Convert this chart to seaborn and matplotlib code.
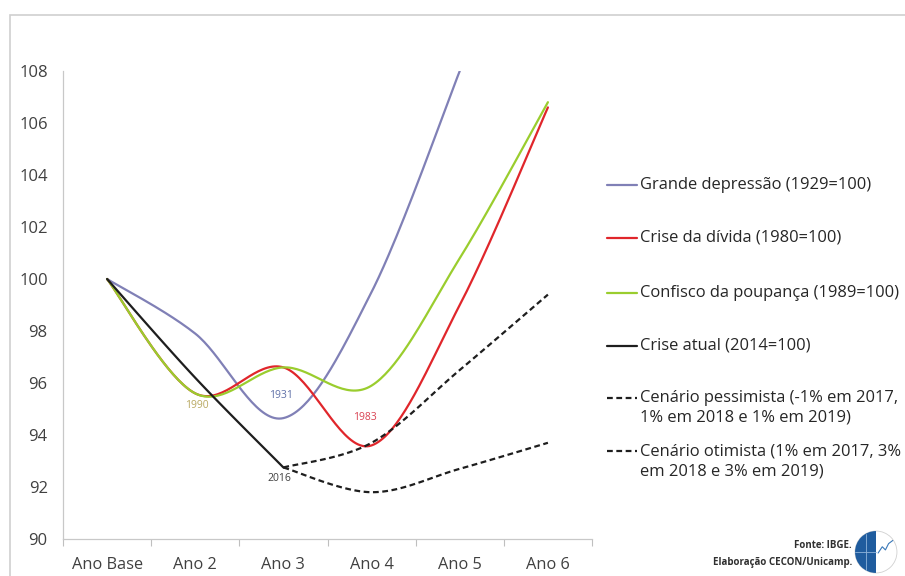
import numpy as np
import pandas as pd
import matplotlib
matplotlib.use("Agg")
import matplotlib.pyplot as plt
import seaborn as sns
from matplotlib.patches import Wedge, Circle, Rectangle
from matplotlib.lines import Line2D

# ---------------- data ----------------
categories = ["Ano Base", "Ano 2", "Ano 3", "Ano 4", "Ano 5", "Ano 6"]

grande_depressao = [100.0, 97.9, 94.65, 99.5, 108.0, None]
crise_divida = [100.0, 95.6, 96.6, 93.6, 99.0, 106.6]
confisco_poupanca = [100.0, 95.6, 96.6, 95.9, 100.8, 106.8]
crise_atual = [100.0, 96.2, 92.75, None, None, None]
cenario_pessimista = [None, None, 92.75, 91.8, 92.7, 93.7]
cenario_otimista = [None, None, 92.75, 93.7, 96.5, 99.4]

series_names = [
    "Grande depressão (1929=100)",
    "Crise da dívida (1980=100)",
    "Confisco da poupança (1989=100)",
    "Crise atual (2014=100)",
    "Cenário pessimista (-1% em 2017,\n1% em 2018 e 1% em 2019)",
    "Cenário otimista (1% em 2017, 3%\nem 2018 e 3% em 2019)",
]
series_values = [grande_depressao, crise_divida, confisco_poupanca,
                 crise_atual, cenario_pessimista, cenario_otimista]

annotation_texts = ["1990", "1931", "1983", "2016"]
annotation_x = [1, 2, 3, 2]
annotation_y = [95.6, 94.65, 93.6, 92.75]

colors = ["#8080B6", "#E0262B", "#9ACD2E", "#1E1E1E", "#1E1E1E", "#1E1E1E"]
annot_colors = ["#B8A860", "#5F70A8", "#D84050", "#404040"]
annot_offsets = [(1, -9), (-1.5, 16), (-5, 20), (-3, -8)]


# Excel-like smoothed line drawing (Bezier through the data points)
def smooth(xs, ys, n=40):
    p = np.column_stack([xs, ys]).astype(float)
    if len(p) < 3:
        return p[:, 0], p[:, 1]
    pp = np.vstack([p[0], p, p[-1]])
    out = []
    t = np.linspace(0, 1, n)[:, None]
    for i in range(1, len(pp) - 2):
        p0, p1, p2, p3 = pp[i - 1], pp[i], pp[i + 1], pp[i + 2]
        c1 = p1 + (p2 - p0) / 6.0
        c2 = p2 - (p3 - p1) / 6.0
        seg = ((1 - t) ** 3) * p1 + 3 * ((1 - t) ** 2) * t * c1 + 3 * (1 - t) * t ** 2 * c2 + t ** 3 * p2
        out.append(seg if i == 1 else seg[1:])
    out = np.vstack(out)
    return out[:, 0], out[:, 1]


rows = []
for name, vals in zip(series_names, series_values):
    xs = [i for i, v in enumerate(vals) if v is not None]
    ys = [v for v in vals if v is not None]
    sx, sy = smooth(xs, ys)
    for a, b in zip(sx, sy):
        rows.append({"x": a, "y": b, "series": name})
df = pd.DataFrame(rows)

# ---------------- figure ----------------
sns.set_theme(style="white")
plt.rcParams["font.family"] = ["Open Sans", "DejaVu Sans"]

W, H = 905, 576
fig = plt.figure(figsize=(W / 100, H / 100), dpi=100)
ax = fig.add_axes([63 / W, 1 - 539 / H, (592 - 63) / W, (539 - 71) / H])

palette = dict(zip(series_names, colors))
dash_pat = (2.6, 1.6)
dashes = {n: "" for n in series_names[:4]}
dashes[series_names[4]] = dash_pat
dashes[series_names[5]] = dash_pat

sns.lineplot(data=df, x="x", y="y", hue="series", style="series",
             hue_order=series_names, style_order=series_names,
             palette=palette, dashes=dashes, estimator=None, sort=False,
             linewidth=1.6, legend=False, ax=ax)

for txt, xi, yv, c, off in zip(annotation_texts, annotation_x, annotation_y, annot_colors, annot_offsets):
    ax.annotate(txt, (xi, yv), xytext=off, textcoords="offset points",
                ha="center", va="center", fontsize=7.5, color=c)

ax.set_xlim(-0.5, 5.5)
ax.set_ylim(90, 108)
ax.set_yticks(np.arange(90, 109, 2))
ax.set_xticks(range(len(categories)))
ax.set_xticklabels(categories)
ax.set_xticks(np.arange(-0.5, 5.6, 1), minor=True)
ax.tick_params(axis="x", which="major", length=0, pad=13, labelsize=11.8, labelcolor="#404040")
ax.tick_params(axis="x", which="minor", length=5, color="#BFBFBF", width=0.8, direction="out", bottom=True)
ax.tick_params(axis="y", length=0, pad=11, labelsize=12, labelcolor="#404040")
ax.set_xlabel("")
ax.set_ylabel("")
for s in ["top", "right"]:
    ax.spines[s].set_visible(False)
for s in ["left", "bottom"]:
    ax.spines[s].set_color("#C8C8C8")
    ax.spines[s].set_linewidth(0.9)

# legend (drawn at the right, first line of each label aligned with its key)
leg_y = [185, 238, 293, 346, 398, 451]
for name, c, y in zip(series_names, colors, leg_y):
    ls = (0, dashes[name]) if dashes[name] else "-"
    fig.add_artist(Line2D([607 / W, 637 / W], [1 - y / H, 1 - y / H], color=c,
                          linewidth=1.6, linestyle=ls, transform=fig.transFigure))
    for k, line in enumerate(name.split("\n")):
        fig.text(640 / W, 1 - (y + 20 * k) / H, line, ha="left", va="center",
                 fontsize=11.9, color="#262626")

# outer chart border
fig.patches.append(Rectangle((10 / W, -0.1), 1.2, 1 - 15 / H + 0.1, transform=fig.transFigure,
                             fill=False, edgecolor="#CFCFCF", linewidth=1.2))

fig.text(852 / W, 1 - 546 / H, "Fonte: IBGE.", ha="right", va="center",
         fontsize=7, fontweight="bold", color="#303030")
fig.text(852 / W, 1 - 562 / H, "Elaboração CECON/Unicamp.", ha="right", va="center",
         fontsize=7, fontweight="bold", color="#303030")

# logo
lax = fig.add_axes([854 / W, 1 - 574 / H, 44 / W, 44 / H])
lax.set_xlim(-1.05, 1.05)
lax.set_ylim(-1.05, 1.05)
lax.set_aspect("equal")
lax.axis("off")
lax.add_patch(Circle((0, 0), 1, facecolor="white", edgecolor="#D0D0D0", lw=0.6))
lax.add_patch(Wedge((0, 0), 1, 90, 270, facecolor="#1F5C9E", edgecolor="none"))
lax.plot([-1, 0], [0, 0], color="#8FB4DA", lw=0.6)
lax.plot([-0.5, -0.5], [-0.85, 0.85], color="#8FB4DA", lw=0.6)
lax.plot([0.1, 0.3, 0.45, 0.6, 0.8], [-0.05, 0.25, 0.1, 0.4, 0.55], color="#3A78B8", lw=0.8)

fig.savefig("out.png", dpi=100, facecolor="white")
